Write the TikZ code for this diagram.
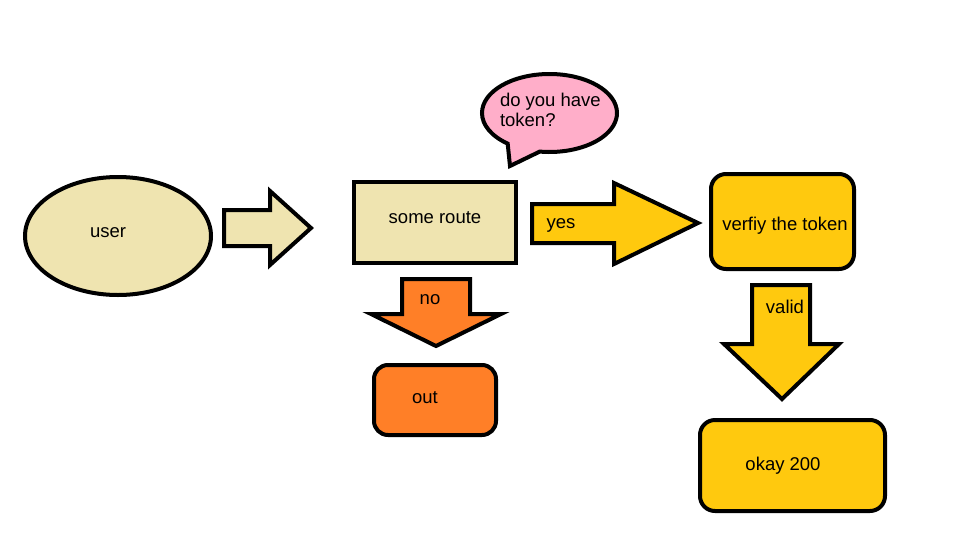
\documentclass[tikz,border=0pt]{standalone}
\usepackage{fontspec}
\setmainfont{Liberation Sans}
\usetikzlibrary{shapes.geometric,shapes.callouts}
\definecolor{beige}{RGB}{239,228,176}
\definecolor{gold}{RGB}{255,201,14}
\definecolor{paintorange}{RGB}{255,127,39}
\definecolor{rosa}{RGB}{255,174,201}
\begin{document}
\begin{tikzpicture}[x=1pt, y=-1pt, line width=4pt]
  \useasboundingbox (0,0) rectangle (959,547);  % Bildgroesse wie Vorlage.
  \tikzstyle{box}=[draw, rounded corners=15pt, inner sep=0pt]
  \tikzstyle{txt}=[anchor=base, inner sep=0pt, font=\fontsize{18.5}{20}\selectfont]
  \tikzstyle{pfeil}=[draw, line join=miter]

  % Formen
  \node[ellipse, draw, fill=beige, minimum width=186pt, minimum height=118pt, inner sep=0pt] (user) at (118,236) {};
  \node[draw, fill=beige, minimum width=162pt, minimum height=81pt, inner sep=0pt] (route) at (435,222.5) {};
  \node[box, fill=gold, minimum width=143pt, minimum height=95pt] (verify) at (782.5,221.5) {};
  \node[box, fill=paintorange, minimum width=122pt, minimum height=70pt, rounded corners=14pt] (out) at (435,400) {};
  \node[box, fill=gold, minimum width=185pt, minimum height=91pt] (okay) at (792.5,465.5) {};
  \node[ellipse callout, draw, fill=rosa, minimum width=135pt, minimum height=78pt, inner sep=0pt,
        callout absolute pointer={(510,166)}, callout pointer arc=30] (bubble) at (549.5,113) {};

  % Pfeile
  \path[pfeil, fill=beige] (224,210) -- (270,210) -- (270,191) -- (311,228) -- (270,265) -- (270,246) -- (224,246) -- cycle;
  \path[pfeil, fill=gold] (532,204) -- (614,204) -- (614,183) -- (698,223) -- (614,264) -- (614,243) -- (532,243) -- cycle;
  \path[pfeil, fill=paintorange] (402,279) -- (470,279) -- (470,314) -- (501,314) -- (436,346) -- (371,314) -- (402,314) -- cycle;
  \path[pfeil, fill=gold] (752,285) -- (810,285) -- (810,344) -- (839,344) -- (782,399) -- (724,344) -- (752,344) -- cycle;

  % Texte
  \node[txt] (usertxt) at (108,237) {user};
  \node[txt] (routetxt) at (435,223) {some route};
  \node[txt] (yes) at (561,228) {yes};
  \node[txt] (verifytxt) at (785,230) {verfiy the token};
  \node[txt] (no) at (430,304) {no};
  \node[txt] (outtxt) at (425,403) {out};
  \node[txt] (valid) at (785,313) {valid};
  \node[txt] (okaytxt) at (783,470) {okay 200};
  \node[txt, anchor=north west, align=left] (frage) at (498,91) {do you have\\token?};
\end{tikzpicture}
\end{document}
